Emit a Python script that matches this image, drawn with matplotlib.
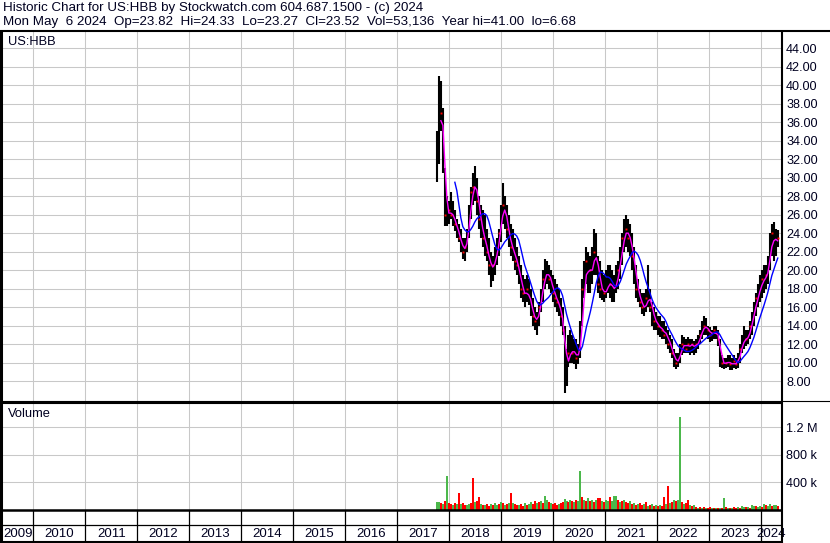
import numpy as np
import pandas as pd
import matplotlib
matplotlib.use("Agg")
import matplotlib.pyplot as plt

plt.rcParams['font.family'] = ['Liberation Sans', 'DejaVu Sans']

# ---------------- data ----------------
title_line1 = "Historic Chart for US:HBB by Stockwatch.com 604.687.1500 - (c) 2024"
title_line2 = "Mon May  6 2024  Op=23.82  Hi=24.33  Lo=23.27  Cl=23.52  Vol=53,136  Year hi=41.00  lo=6.68"
symbol = "US:HBB"

first_bar = "2017-10-06"   # bars every two weeks

highs = [35, 41, 40.5, 37.5, 31, 28, 27.5, 28.5, 27.5, 26.5,
         25.5, 25, 24.5, 23.5, 23.5, 24.5, 27, 29, 30.5, 31.3,
         30, 28, 27, 26.5, 26, 24.5, 23.5, 22, 21.5, 22.5,
         23.5, 24.5, 27, 29.4, 28, 27, 26, 25, 24.5, 23.5,
         22.5, 21.5, 20.5, 19.5, 19, 19.5, 19, 18, 17, 16,
         15.5, 16.5, 18, 20, 21.2, 21, 20.5, 20, 19.5, 19,
         18.5, 18, 17, 16, 14, 11.5, 13, 13.5, 13, 12.5,
         12.5, 12, 14.5, 19, 21, 22.5, 22, 21.5, 22.5, 24.5,
         24, 21.5, 21, 20, 19.5, 20, 20.5, 20.5, 20, 19.5,
         20.5, 21, 22.5, 24, 25.5, 26, 25.5, 25, 24, 22.5,
         20.5, 19, 18, 17.5, 17.5, 18, 20.5, 18, 16.5, 16,
         15.5, 15, 15, 14.5, 14.5, 14, 13.5, 13, 12.5, 11.5,
         11, 11, 12, 13, 12.8, 12.5, 12.8, 12.5, 12.5, 12.3,
         12.5, 13, 13.5, 14.5, 15, 14.8, 14, 13.8, 13.5, 14,
         14, 13.5, 12.5, 10.8, 10.5, 10.5, 10.8, 10.8, 10.5, 10.8,
         10.5, 11, 12, 13, 14, 13.5, 13.5, 14.5, 15.5, 16.5,
         17.5, 18.5, 19.5, 20, 20.5, 20.5, 21.5, 24, 25, 25.2,
         24.5, 24.3]

lows = [29.5, 31.5, 35, 30.5, 24.8, 24.8, 25, 25.5, 24.8, 24.2,
        23.5, 23, 22, 21.2, 21, 22, 23.5, 25.5, 27, 27.5,
        26, 24.5, 23.5, 22.5, 21.5, 21, 19.5, 18.2, 18.8, 19.5,
        20.5, 21.5, 23, 25, 24.5, 23.5, 22.5, 21.5, 21, 20,
        19.5, 18.5, 17, 16.5, 16, 16.5, 16.2, 15, 14, 13.5,
        13, 14, 15.5, 16.5, 18, 18.5, 18, 17.5, 16.5, 16,
        15.5, 15, 14, 13, 6.68, 7.5, 9.5, 10, 10, 9.8,
        9.3, 9.8, 10.5, 14, 17, 18.5, 17.5, 17.5, 18.5, 19.5,
        19.5, 17.5, 17, 16.8, 16.5, 17, 17.5, 17, 16.5, 16.5,
        17.5, 18, 19, 20.5, 22, 22.5, 22, 21.5, 20, 18.5,
        17, 16.5, 16, 15.2, 15, 15.5, 16, 15.5, 14, 13.5,
        13.5, 13, 12.8, 12.5, 12.5, 12, 11.5, 11, 10.5, 9.5,
        9.3, 9.5, 10, 10.8, 11, 11, 11, 10.8, 11, 10.8,
        11, 11.5, 12, 12.5, 13, 13, 12.5, 12.2, 12.3, 12.5,
        12.5, 11.8, 9.5, 9.4, 9.3, 9.4, 9.5, 9.2, 9.2, 9.4,
        9.3, 9.4, 10, 11, 11.5, 11.8, 12, 12.5, 13, 14,
        15, 16, 16.5, 17, 17.5, 18, 18.5, 20, 21.5, 21,
        21.5, 22.5]

closes = [33, 38.5, 37, 31.5, 26, 26, 26.5, 26, 25.5, 25,
          24, 23.5, 22.5, 22, 22.5, 24, 26.5, 28.5, 29, 29.5,
          27.5, 25.5, 24.5, 23.5, 22.5, 22, 20.5, 20, 20.5, 21.5,
          22.5, 24, 26.5, 27, 26, 24.5, 23, 22.5, 22, 21,
          20.5, 19.5, 18, 17.5, 17, 18, 17, 15.5, 15, 14.5,
          14.5, 16, 17.5, 19, 19.5, 20, 19, 18.5, 17.5, 17,
          16.5, 16, 15, 13.5, 9.5, 10, 11, 11.5, 11, 11,
          10.5, 11, 14, 18, 19.5, 21, 19, 20, 21, 22,
          21, 18.5, 18, 17.5, 17.5, 18, 19, 18.5, 17.5, 18,
          19.5, 20, 22, 23.5, 24, 24.5, 23.5, 22.5, 21.5, 19.5,
          18, 17, 16.5, 16, 15.5, 17, 17.5, 16, 15, 14.5,
          14, 14, 13.5, 13.5, 13, 13, 12, 11.5, 11, 10,
          10, 10.5, 11.5, 12, 12, 11.5, 12, 11.8, 12, 11.5,
          12, 12.5, 13, 14, 14, 13.5, 13.5, 13, 13, 13.5,
          13, 12.5, 10, 10, 9.8, 10, 10.2, 9.8, 9.6, 10.2,
          9.8, 10.5, 11.5, 12.5, 12.5, 12.5, 13, 14, 15, 16,
          17, 17.5, 18.5, 19, 19, 19.5, 20.5, 23, 24, 22.5,
          23.5, 23.5]

volumes_k = [120, 110, 100, 85, 125, 490, 100, 85, 75, 100,
             85, 253, 90, 100, 70, 75, 85, 100, 464, 110,
             125, 190, 85, 75, 70, 90, 65, 85, 70, 100,
             75, 85, 110, 100, 70, 85, 105, 253, 100, 85,
             75, 70, 85, 65, 100, 75, 85, 110, 90, 125,
             100, 120, 125, 100, 205, 150, 110, 100, 85, 105,
             75, 90, 100, 110, 165, 130, 120, 140, 125, 110,
             150, 125, 561, 190, 140, 130, 180, 125, 150, 120,
             140, 170, 175, 125, 110, 150, 130, 190, 125, 205,
             200, 140, 120, 130, 150, 110, 100, 125, 85, 105,
             75, 90, 100, 70, 85, 110, 65, 75, 85, 55,
             70, 65, 75, 55, 190, 85, 351, 100, 110, 140,
             125, 150, 1350, 120, 85, 100, 150, 75, 65, 70,
             40, 35, 45, 30, 40, 35, 30, 45, 35, 30,
             25, 30, 35, 30, 175, 40, 30, 35, 25, 40,
             30, 45, 35, 60, 40, 50, 45, 35, 70, 55,
             60, 45, 65, 50, 80, 70, 55, 85, 60, 75,
             70, 65]

vol_dir = ("GGRGRGRRGR" "GRGRRGGRRG" "RRGRGRRGRG" "GRGRGRGRGR"
           "RGRRGRGGRR" "GRGRGGRGRR" "RGRRGGRGRG" "RGGRGRGRGR"
           "GRRGRGGRGG" "GRGRGRRGRG" "RGRRGRGRGR" "GRGRRGRGRG"
           "RGGRGRRGRG" "RGRGRGRRGR" "GRGRGRGRGR" "RGRGGRGRGG"
           "RGGRGRGGRG" "GR")

price_ticks = list(range(8, 45, 2))
vol_ticks = [400e3, 800e3, 1.2e6]
vol_tick_labels = ["400 k", "800 k", "1.2 M"]
years = list(range(2009, 2025))

n = len(highs)
assert len(lows) == n and len(closes) == n and len(volumes_k) == n and len(vol_dir) == n

dates = pd.date_range(first_bar, periods=n, freq="14D")
x = np.array([d.year + (d.dayofyear - 1) / (366 if d.is_leap_year else 365) for d in dates])
highs = np.array(highs); lows = np.array(lows); closes = np.array(closes)
vol = np.array(volumes_k) * 1000.0
ma_fast = pd.Series(closes).rolling(3).mean().values
ma_slow = pd.Series(closes).rolling(10).mean().values

# ---------------- layout ----------------
W, H = 830, 543
fig = plt.figure(figsize=(W / 100, H / 100), dpi=100)

def rect(x0, y0, x1, y1):
    return [x0 / W, 1 - y1 / H, (x1 - x0) / W, (y1 - y0) / H]

XMIN, XMAX = 2009.398, 2024.379
GRID = '#c8c8c8'
FS_HEAD = 9.6
FS_TICK = 9.1
FS_LAB = 9.3
FS_YEAR = 9.5
TXT = '#000020'

ax = fig.add_axes(rect(2, 32, 781, 401))
axv = fig.add_axes(rect(2, 403, 781, 510))
axd = fig.add_axes(rect(2, 510, 781, 542))

for a in (ax, axv):
    a.set_xlim(XMIN, XMAX)
    for s in a.spines.values():
        s.set_visible(False)
    a.set_xticks(range(2010, 2025))
    a.tick_params(axis='x', length=0, labelbottom=False)
    a.grid(True, color=GRID, linewidth=0.75)
    a.set_axisbelow(True)
    a.yaxis.set_ticks_position('right')
    a.tick_params(axis='y', length=0, pad=3.6, labelsize=FS_TICK, labelcolor=TXT)

# price
ax.set_ylim(5.84, 45.76)
ax.set_yticks(price_ticks)
ax.set_yticklabels([f"{p:.2f}" for p in price_ticks])
ax.vlines(x, lows, highs, color='black', linewidth=1.5, zorder=3)
down = np.array([c == 'R' for c in vol_dir])
ax.plot(x[down], closes[down], 's', color='red', ms=1.4, mew=0, zorder=4)
ax.plot(x, ma_fast, color='#ff00ff', linewidth=1.0, zorder=5)
ax.plot(x, ma_slow, color='#0000ff', linewidth=1.0, zorder=5)
ax.text(0.008, 0.973, symbol, transform=ax.transAxes, fontsize=FS_LAB, va='center', ha='left', color=TXT)

# volume
axv.set_ylim(0, 1556e3)
axv.set_yticks(vol_ticks)
axv.set_yticklabels(vol_tick_labels)
cols = ['#ff0000' if c == 'R' else '#4cb84c' for c in vol_dir]
axv.bar(x, vol, width=2 / 52, color=cols, linewidth=0, zorder=3)
axv.text(0.008, 0.9, "Volume", transform=axv.transAxes, fontsize=FS_LAB, va='center', ha='left', color=TXT)

# date strip
axd.set_xlim(XMIN, XMAX)
axd.set_ylim(0, 1)
axd.axis('off')
axd.vlines(range(2010, 2025), 0, 1, color='black', linewidth=0.9)
axd.axhline(17 / 32, color='black', linewidth=0.9)
for yr in years:
    c = (max(yr, XMIN) + min(yr + 1, XMAX)) / 2
    axd.text(c, 0.25, str(yr), ha='center', va='center', fontsize=FS_YEAR, color=TXT)

# frame overlay in pixel coordinates
ov = fig.add_axes([0, 0, 1, 1], zorder=10)
ov.set_xlim(0, W)
ov.set_ylim(H, 0)
ov.axis('off')
ov.patch.set_alpha(0)
ov.hlines(31, 0, W, color='black', linewidth=1.5)
ov.vlines(1.2, 31, H, color='black', linewidth=2.2)
ov.vlines(781.5, 31, H, color='black', linewidth=1.5)
ov.hlines(400.5, 0, W, color='black', linewidth=0.8)
ov.hlines(402.7, 0, 781.5, color='black', linewidth=1.5)
ov.hlines(510.3, 0, 781.5, color='black', linewidth=1.8)
ov.hlines(541.8, 0, 781.5, color='black', linewidth=1.5)
ov.text(3, 8.5, title_line1, fontsize=FS_HEAD, va='center', ha='left', color=TXT)
ov.text(3, 22.5, title_line2, fontsize=FS_HEAD, va='center', ha='left', color=TXT)

fig.savefig("out.png", dpi=100)
